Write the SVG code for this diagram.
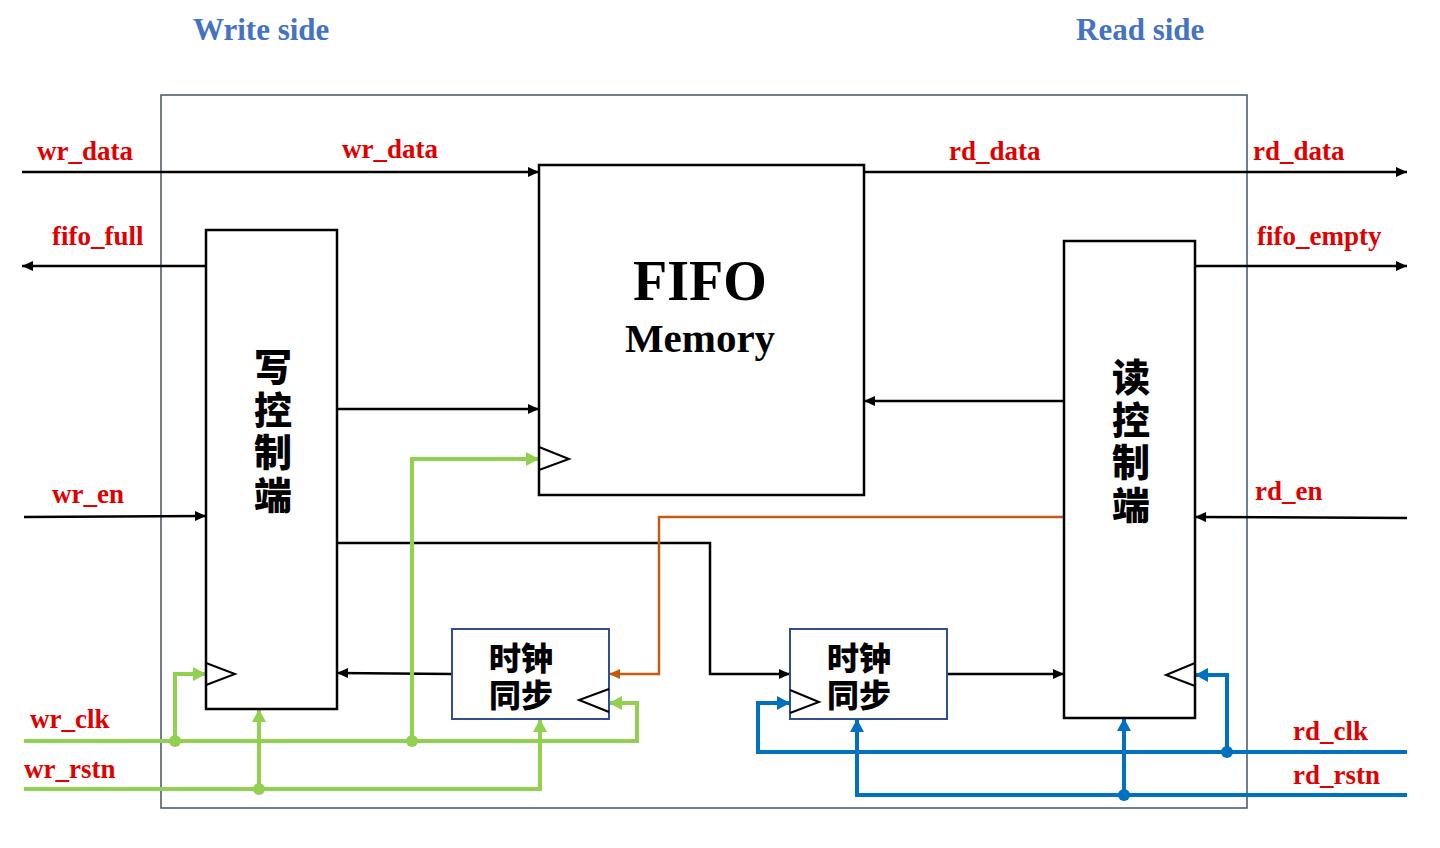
<svg xmlns="http://www.w3.org/2000/svg" width="1440" height="848" viewBox="0 0 1440 848">
<style>
.lbl{font-family:"Liberation Serif","Times New Roman",serif;font-weight:bold;font-size:27px;fill:#E00000}
.ttl{font-family:"Liberation Serif","Times New Roman",serif;font-weight:bold;font-size:31px;fill:#4472C4}
.cjk{font-family:"Noto Sans CJK SC","Noto Sans",sans-serif;font-weight:900;fill:#000;text-anchor:middle}
.vcjk{font-family:"Noto Sans CJK SC","Noto Sans",sans-serif;font-weight:900;fill:#000;writing-mode:vertical-rl;text-anchor:start;font-size:38px;letter-spacing:4.5px}
.blk{fill:none;stroke:#000;stroke-width:2.5}
.sync{fill:#fff;stroke:#2F4F8F;stroke-width:2}
.w{fill:none;stroke:#000;stroke-width:2.5}
.g{fill:none;stroke:#92D050;stroke-width:4}
.b{fill:none;stroke:#0070C0;stroke-width:4}
.o{fill:none;stroke:#C55A11;stroke-width:2.5}
.clk{fill:none;stroke:#000;stroke-width:2}
</style>
<defs>
<marker id="ak" markerUnits="userSpaceOnUse" markerWidth="12" markerHeight="12" refX="11" refY="6" orient="auto"><path d="M0,1 L11,6 L0,11 Z" fill="#000"/></marker>
<marker id="ag" markerUnits="userSpaceOnUse" markerWidth="14" markerHeight="14" refX="13" refY="7" orient="auto"><path d="M0,0 L13,7 L0,14 Z" fill="#92D050"/></marker>
<marker id="ab" markerUnits="userSpaceOnUse" markerWidth="14" markerHeight="14" refX="13" refY="7" orient="auto"><path d="M0,0 L13,7 L0,14 Z" fill="#0070C0"/></marker>
<marker id="ao" markerUnits="userSpaceOnUse" markerWidth="12" markerHeight="12" refX="11" refY="6" orient="auto"><path d="M0,1 L11,6 L0,11 Z" fill="#C55A11"/></marker>
</defs>
<rect width="1440" height="848" fill="#fff"/>
<text class="ttl" x="193" y="40">Write side</text>
<text class="ttl" x="1076" y="40">Read side</text>
<rect id="outer" x="161" y="95" width="1086" height="713" fill="none" stroke="#44546A" stroke-width="1.5"/>

<g id="connectors">
<line class="w" x1="22" y1="172" x2="539" y2="172" marker-end="url(#ak)"/>
<line class="w" x1="864" y1="172" x2="1407" y2="172" marker-end="url(#ak)"/>
<line class="w" x1="206" y1="266" x2="22" y2="266" marker-end="url(#ak)"/>
<line class="w" x1="1195" y1="266" x2="1407" y2="266" marker-end="url(#ak)"/>
<line class="w" x1="24" y1="517" x2="206" y2="516" marker-end="url(#ak)"/>
<line class="w" x1="1407" y1="518" x2="1195" y2="517" marker-end="url(#ak)"/>
<line class="w" x1="337" y1="409" x2="539" y2="409" marker-end="url(#ak)"/>
<line class="w" x1="1064" y1="401" x2="864" y2="401" marker-end="url(#ak)"/>
<polyline class="w" points="337,543 710,543 710,674 790,674" marker-end="url(#ak)"/>
<line class="w" x1="947" y1="674" x2="1064" y2="674" marker-end="url(#ak)"/>
<line class="w" x1="452" y1="674" x2="337" y2="673" marker-end="url(#ak)"/>
<polyline class="o" points="1064,517 659,517 659,674 609,674" marker-end="url(#ao)"/>
<polyline class="g" points="24,741 637,741 637,703 609,703" marker-end="url(#ag)"/>
<polyline class="g" points="175,741 175,674 206,674" marker-end="url(#ag)"/>
<polyline class="g" points="412,741 412,459 539,459" marker-end="url(#ag)"/>
<polyline class="g" points="24,789 540,789 540,719" marker-end="url(#ag)"/>
<polyline class="g" points="259,789 259,709" marker-end="url(#ag)"/>
<circle cx="175" cy="741" r="6" fill="#92D050"/>
<circle cx="412" cy="741" r="6" fill="#92D050"/>
<circle cx="259" cy="789" r="6" fill="#92D050"/>
<polyline class="b" points="1407,752 758,752 758,703 790,703" marker-end="url(#ab)"/>
<polyline class="b" points="1227,752 1227,675 1195,675" marker-end="url(#ab)"/>
<polyline class="b" points="1407,795 857,795 857,719" marker-end="url(#ab)"/>
<polyline class="b" points="1124,795 1124,718" marker-end="url(#ab)"/>
<circle cx="1227" cy="752" r="6" fill="#0070C0"/>
<circle cx="1124" cy="795" r="6" fill="#0070C0"/>
</g>

<g id="fifo">
<rect class="blk" x="539" y="165" width="325" height="330" fill="#fff"/>
<polyline class="clk" points="539,447 569,459 539,470"/>
<text x="700" y="300" text-anchor="middle" style="font-family:'Liberation Serif','Times New Roman',serif;font-weight:bold;font-size:56px">FIFO</text>
<text x="700" y="352" text-anchor="middle" style="font-family:'Liberation Serif','Times New Roman',serif;font-weight:bold;font-size:41px">Memory</text>
</g>

<g id="wctrl">
<rect class="blk" x="206" y="230" width="131" height="479" fill="#fff"/>
<polyline class="clk" points="206,663 235,674 206,685"/>
<text class="vcjk" x="273" y="348">写控制端</text>
</g>

<g id="rctrl">
<rect class="blk" x="1064" y="241" width="131" height="477" fill="#fff"/>
<polyline class="clk" points="1195,663 1166,675 1195,686"/>
<text class="vcjk" x="1131" y="358">读控制端</text>
</g>

<g id="sync1">
<rect class="sync" x="452" y="629" width="157" height="90"/>
<polyline class="clk" points="609,689 579,700 609,712"/>
<text class="cjk" font-size="32"><tspan x="521" y="670">时钟</tspan><tspan x="521" y="707">同步</tspan></text>
</g>

<g id="sync2">
<rect class="sync" x="790" y="629" width="157" height="90"/>
<polyline class="clk" points="790,690 819,702 790,713"/>
<text class="cjk" font-size="32"><tspan x="859" y="670">时钟</tspan><tspan x="859" y="707">同步</tspan></text>
</g>

<g id="labels">
<text class="lbl" x="37" y="160">wr_data</text>
<text class="lbl" x="342" y="158">wr_data</text>
<text class="lbl" x="949" y="160">rd_data</text>
<text class="lbl" x="1253" y="160">rd_data</text>
<text class="lbl" x="52" y="245">fifo_full</text>
<text class="lbl" x="1257" y="245">fifo_empty</text>
<text class="lbl" x="52" y="503">wr_en</text>
<text class="lbl" x="1255" y="500">rd_en</text>
<text class="lbl" x="30" y="728">wr_clk</text>
<text class="lbl" x="24" y="778">wr_rstn</text>
<text class="lbl" x="1293" y="740">rd_clk</text>
<text class="lbl" x="1293" y="784">rd_rstn</text>
</g>
</svg>
